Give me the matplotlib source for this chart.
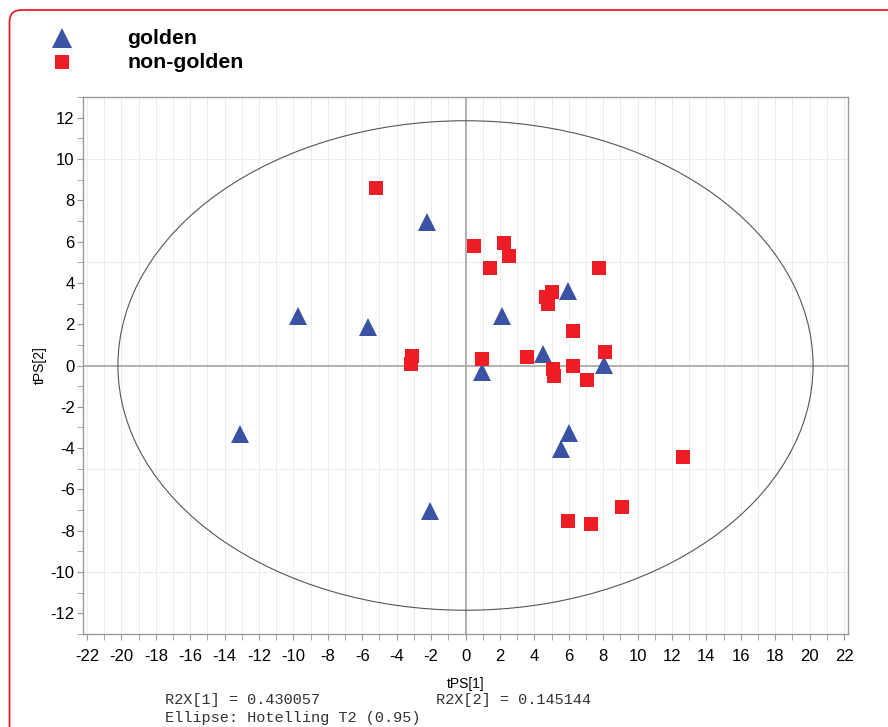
import matplotlib.pyplot as plt
import matplotlib.patches as mpatches
from matplotlib.ticker import MultipleLocator

# scores
golden_x = [-2.26, -9.72, -5.69, 2.12, 5.94, 0.96, 4.52, 8.05, -13.1, 6.03, 5.57, -2.06]
golden_y = [6.95, 2.39, 1.84, 2.39, 3.61, -0.31, 0.55, 0.01, -3.32, -3.26, -4.06, -7.05]

nongolden_x = [-5.20, 0.49, 2.26, 2.53, 1.42, 7.74, 5.01, 4.66, 4.78, 6.27, -3.11, -3.19,
               0.96, 3.59, 8.13, 6.27, 5.11, 5.16, 7.05, 12.66, 9.08, 5.96, 7.28]
nongolden_y = [8.59, 5.79, 5.95, 5.29, 4.72, 4.72, 3.56, 3.30, 3.00, 1.67, 0.46, 0.08,
               0.32, 0.40, 0.64, 0.00, -0.18, -0.52, -0.71, -4.45, -6.84, -7.53, -7.66]

ellipse_rx = 20.2
ellipse_ry = 11.85
r2x = ['0.430057', '0.145144']

blue = '#3a53a4'
red = '#ee1c25'
spine_gray = '#999999'

plt.rcParams['font.family'] = ['Liberation Sans', 'DejaVu Sans']
plt.rcParams['axes.unicode_minus'] = False

fig = plt.figure(figsize=(8.88, 7.27), dpi=100)
ax = fig.add_axes([83 / 888, 1 - 634 / 727, (848 - 83) / 888, (634 - 97) / 727])

# grid: vertical every 1, horizontal every 5
ax.xaxis.set_major_locator(MultipleLocator(2))
ax.xaxis.set_minor_locator(MultipleLocator(1))
ax.yaxis.set_major_locator(MultipleLocator(2))
ax.yaxis.set_minor_locator(MultipleLocator(1))
ax.grid(True, which='both', axis='x', color='#ececec', linewidth=0.7)
for gy in [-10, -5, 5, 10]:
    ax.axhline(gy, color='#ececec', linewidth=0.7, zorder=0)
ax.set_axisbelow(True)

ax.axhline(0, color='#aaaaaa', linewidth=1.3, zorder=1)
ax.axvline(0, color='#aaaaaa', linewidth=1.3, zorder=1)

ell = mpatches.Ellipse((0, 0), 2 * ellipse_rx, 2 * ellipse_ry, fill=False,
                       edgecolor='#555555', linewidth=0.8, zorder=2)
ax.add_patch(ell)

ax.plot(golden_x, golden_y, linestyle='none', marker='^', markersize=13,
        color=blue, markeredgewidth=0, zorder=3)
ax.plot(nongolden_x, nongolden_y, linestyle='none', marker='s', markersize=9.5,
        color=red, markeredgewidth=0, zorder=4)

ax.set_xlim(-22.23, 22.23)
ax.set_ylim(-13, 13)
for s in ax.spines.values():
    s.set_color(spine_gray)
    s.set_linewidth(1.0)
ax.tick_params(which='both', direction='out', length=4, color=spine_gray,
               labelsize=12, pad=2)
ax.tick_params(axis='x', pad=7)
ax.set_xlabel('tPS[1]', fontsize=10, labelpad=9)
ax.set_ylabel('tPS[2]', fontsize=10, labelpad=3)

# legend at top left
leg_ax = fig.add_axes([0, 0, 1, 1], facecolor='none')
leg_ax.set_xlim(0, 888)
leg_ax.set_ylim(727, 0)
leg_ax.axis('off')
leg_ax.plot([62], [38], marker='^', markersize=14, color=blue, markeredgewidth=0)
leg_ax.plot([62], [62], marker='s', markersize=9.5, color=red, markeredgewidth=0)
leg_ax.text(127, 39, 'golden', fontsize=15.3, fontweight='bold', va='center', ha='left')
leg_ax.text(127, 63, 'non-golden', fontsize=15.3, fontweight='bold', va='center', ha='left')

# footer text
mono = ['Liberation Mono', 'DejaVu Sans Mono']
leg_ax.text(165, 700, 'R2X[1] = ' + r2x[0], family=mono, fontsize=11,
            color='#333333', va='center', ha='left')
leg_ax.text(436, 700, 'R2X[2] = ' + r2x[1], family=mono, fontsize=11,
            color='#333333', va='center', ha='left')
leg_ax.text(165, 718, 'Ellipse: Hotelling T2 (0.95)', family=mono, fontsize=11,
            color='#333333', va='center', ha='left')

# red rounded frame, running off the right and bottom edges
frame = mpatches.FancyBboxPatch((9.5, 10), 900, 780, boxstyle='round,pad=0,rounding_size=12',
                                fill=False, edgecolor='#e8202a', linewidth=1.3,
                                clip_on=False)
leg_ax.add_patch(frame)

fig.savefig('out.png', dpi=100)
